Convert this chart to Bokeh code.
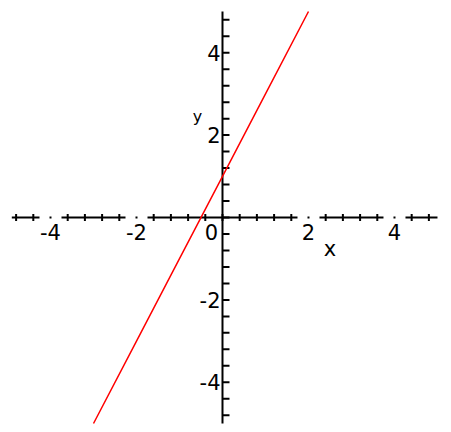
import numpy as np
from bokeh.plotting import figure
from bokeh.models import Range1d
from bokeh.core.properties import value
from bokeh.embed import file_html
from bokeh.resources import INLINE

# data: y = 2x + 1
line_x = [-3, -2, -1, 0, 1, 2]
line_y = [-5, -3, -1, 1, 3, 5]

# axes
x_axis_extent = [-4.9, 5.0]
y_axis_extent = [-5.0, 5.0]
x_major = [-4, -2, 2, 4]
x_major_labels = ["-4", "-2", "2", "4"]
y_major = [-4, -2, 2, 4]
y_major_labels = ["-4", "-2", "2", "4"]
minor_step = 0.4
x_minor = [round(v, 1) for v in np.arange(-4.8, 4.81, minor_step)]
y_minor = [round(v, 1) for v in np.arange(-4.8, 4.81, minor_step)]
x_label_pos = (2.5, 0)
y_label_pos = (0, 2.45)

FONT = value("DejaVu Sans")
FS = "21px"

p = figure(width=451, height=432,
           x_range=Range1d(-5.163, 5.326), y_range=Range1d(-5.218, 5.267),
           toolbar_location=None, output_backend="svg",
           x_axis_type=None, y_axis_type=None, min_border=0)
p.outline_line_color = None
p.background_fill_color = "white"
p.border_fill_color = "white"

# x axis line and ticks
p.line(x=x_axis_extent, y=[0, 0], line_color="black", line_width=2)
p.scatter(x=x_minor, y=[0] * len(x_minor), marker="dash", angle=np.pi / 2,
          size=7, line_color="black", line_width=2)
# gaps around labelled ticks
p.rect(x=x_major, y=[0] * len(x_major), width=22, height=10,
       width_units="screen", height_units="screen",
       fill_color="white", line_color=None)
p.scatter(x=x_major, y=[0] * len(x_major), marker="square", size=2,
          fill_color="black", line_color=None)

# y axis line and ticks
p.line(x=[0, 0], y=y_axis_extent, line_color="black", line_width=2)
p.ray(x=[0] * len(y_minor), y=y_minor, length=7, length_units="screen",
      angle=0, line_color="black", line_width=2)

# labels
p.text(x=x_major, y=[0] * len(x_major), text=x_major_labels,
       text_align="center", text_baseline="middle", y_offset=14,
       text_font=FONT, text_font_size=FS, text_color="black")
p.text(x=[0] * len(y_major), y=y_major, text=y_major_labels,
       text_align="right", text_baseline="middle", x_offset=-2,
       text_font=FONT, text_font_size=FS, text_color="black")
p.text(x=[0], y=[0], text=["0"], text_align="center", text_baseline="middle",
       x_offset=-11, y_offset=14, text_font=FONT, text_font_size=FS,
       text_color="black")
p.text(x=[x_label_pos[0]], y=[x_label_pos[1]], text=["x"], text_align="center",
       text_baseline="middle", y_offset=31, text_font=FONT,
       text_font_size=FS, text_color="black")
p.text(x=[y_label_pos[0]], y=[y_label_pos[1]], text=["y"], text_align="center",
       text_baseline="middle", x_offset=-25, text_font=FONT,
       text_font_size="16px", text_color="black")

# curve
p.line(x=line_x, y=line_y, line_color="#ff0000", line_width=1.5)

open("out.html", "w").write(file_html(p, INLINE))
